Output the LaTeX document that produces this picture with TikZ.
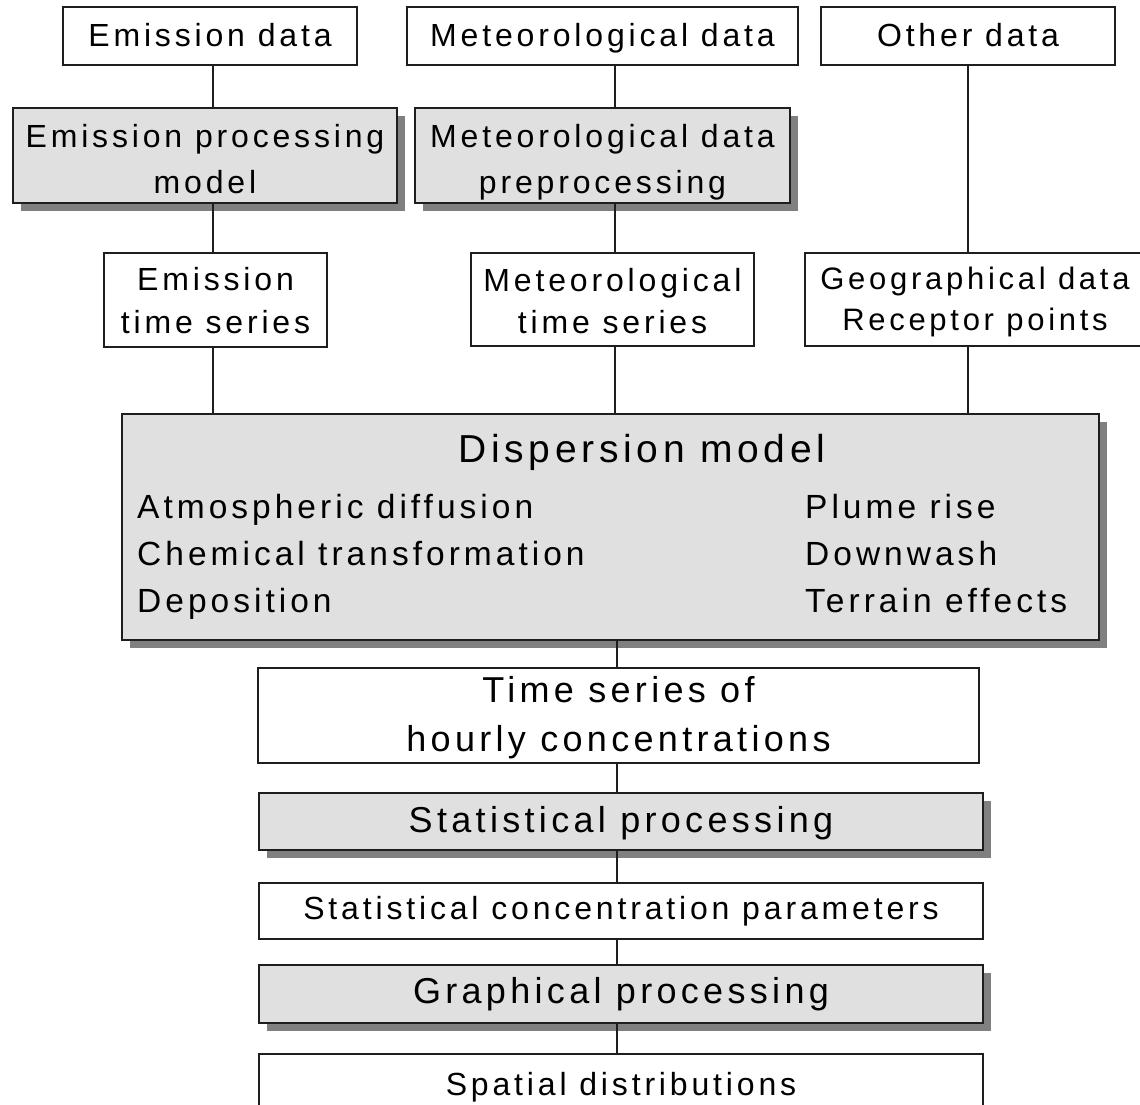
\documentclass[tikz,border=0pt]{standalone}
\usepackage{fontspec}
\setmainfont{Liberation Sans}[LetterSpace=12]
\usetikzlibrary{shadows}
\definecolor{boxfill}{RGB}{224,224,224}
\definecolor{shadowgray}{RGB}{128,128,128}
\definecolor{edgecol}{RGB}{30,30,30}
\newcommand\boxline[2]{\raisebox{#1}[0.73em][0.21em]{#2}}
\begin{document}
\begin{tikzpicture}[x=1pt,y=-1pt,
  plain/.style={draw=edgecol, line width=1.3pt, fill=white, inner sep=0pt, align=center, text=black},
  shaded/.style={plain, fill=boxfill, drop shadow={shadow xshift=8pt, shadow yshift=-8pt, fill=shadowgray, opacity=1}},
  link/.style={draw=edgecol, line width=1.3pt},
  fa/.style={font=\fontsize{32}{45}\selectfont},
  fb/.style={font=\fontsize{36}{49}\selectfont},
  one/.style={text height=23.3pt, text depth=6.7pt},
  onetop/.style={text height=25.7pt, text depth=4.3pt},
  oneb/.style={text height=26.2pt, text depth=7.6pt},
  item/.style={anchor=base west, inner sep=0pt, font=\fontsize{33.5}{47}\selectfont},
]
\useasboundingbox (0,0) rectangle (1140,1104);
\clip (0,0) rectangle (1140,1104);
\fill[white] (0,0) rectangle (1140,1104);

% top row
\node[plain, fa, onetop, minimum width=294pt, minimum height=58pt] (ed) at (210,36) {Emission data};
\node[plain, fa, onetop, minimum width=391pt, minimum height=58pt] (md) at (602.5,36) {Meteorological data};
\node[plain, fa, onetop, minimum width=294pt, minimum height=58pt] (od) at (968,36) {Other data};

% processing row
\node[shaded, font=\fontsize{32}{46}\selectfont, minimum width=384pt, minimum height=95pt] (epm) at (205,155.5)
  {\boxline{-6.5pt}{Emission processing}\\\boxline{-6.5pt}{model}};
\node[shaded, font=\fontsize{32}{46}\selectfont, minimum width=375pt, minimum height=95pt] (mdp) at (602.5,155.5)
  {\boxline{-6.5pt}{Meteorological data}\\\boxline{-6.5pt}{preprocessing}};

% time series row
\node[plain, font=\fontsize{32}{43}\selectfont, minimum width=223pt, minimum height=94pt] (ets) at (215.5,300)
  {\boxline{-4pt}{Emission}\\\boxline{-4pt}{time series}};
\node[plain, font=\fontsize{32}{42}\selectfont, minimum width=283pt, minimum height=93pt] (mts) at (612.5,299.5)
  {\boxline{-5pt}{Meteorological}\\\boxline{-5pt}{time series}};
\node[plain, font=\fontsize{31}{41}\selectfont, minimum width=340pt, minimum height=93pt] (geo) at (975,299.5)
  {\boxline{-2pt}{Geographical data}\\\boxline{-2pt}{Receptor points}};

% dispersion model
\node[shaded, minimum width=977pt, minimum height=226pt] (disp) at (610.5,527) {};
\node[anchor=base, inner sep=0pt, font=\fontsize{39}{47}\selectfont] (dtitle) at (642,462) {Dispersion model};
\node[item] (i1) at (137,518) {Atmospheric diffusion};
\node[item] (i2) at (137,565) {Chemical transformation};
\node[item] (i3) at (137,612) {Deposition};
\node[item] (i4) at (805,518) {Plume rise};
\node[item] (i5) at (805,565) {Downwash};
\node[item] (i6) at (805,612) {Terrain effects};

% lower chain
\node[plain, font=\fontsize{36}{49}\selectfont, minimum width=721pt, minimum height=95pt] (tsc) at (618.5,715.5)
  {\boxline{-2pt}{Time series of}\\\boxline{-2pt}{hourly concentrations}};
\node[shaded, fb, text height=27pt, text depth=6pt, minimum width=724pt, minimum height=57pt] (sp) at (621,821.5) {Statistical processing};
\node[plain, fa, one, minimum width=724pt, minimum height=56pt] (scp) at (621,911) {Statistical concentration parameters};
\node[shaded, fb, oneb, minimum width=724pt, minimum height=58pt] (gp) at (621,994) {Graphical processing};
\node[plain, fa, one, minimum width=724pt, minimum height=66pt] (sd) at (621,1087) {Spatial distributions};

% connectors
\coordinate (cA) at (213,0);
\coordinate (cB) at (615,0);
\coordinate (cC) at (968,0);
\coordinate (cD) at (617,0);
\draw[link] (cA |- ed.south) -- (cA |- epm.north);
\draw[link] (cA |- epm.south) -- (cA |- ets.north);
\draw[link] (cA |- ets.south) -- (cA |- disp.north);
\draw[link] (cB |- md.south) -- (cB |- mdp.north);
\draw[link] (cB |- mdp.south) -- (cB |- mts.north);
\draw[link] (cB |- mts.south) -- (cB |- disp.north);
\draw[link] (cC |- od.south) -- (cC |- geo.north);
\draw[link] (cC |- geo.south) -- (cC |- disp.north);
\draw[link] (cD |- disp.south) -- (cD |- tsc.north);
\draw[link] (cD |- tsc.south) -- (cD |- sp.north);
\draw[link] (cD |- sp.south) -- (cD |- scp.north);
\draw[link] (cD |- scp.south) -- (cD |- gp.north);
\draw[link] (cD |- gp.south) -- (cD |- sd.north);
\end{tikzpicture}
\end{document}
